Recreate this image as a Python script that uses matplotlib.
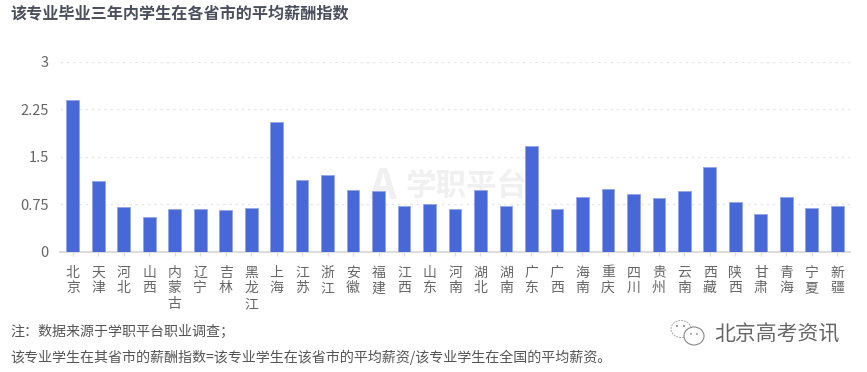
import matplotlib
matplotlib.use('Agg')
import matplotlib.pyplot as plt
from matplotlib.patches import Ellipse, Circle

plt.rcParams['font.family'] = ['Noto Sans CJK SC', 'DejaVu Sans']

provinces = ['北京', '天津', '河北', '山西', '内蒙古', '辽宁', '吉林', '黑龙江', '上海', '江苏', '浙江',
             '安徽', '福建', '江西', '山东', '河南', '湖北', '湖南', '广东', '广西', '海南', '重庆',
             '四川', '贵州', '云南', '西藏', '陕西', '甘肃', '青海', '宁夏', '新疆']
salary_index = [2.40, 1.115, 0.71, 0.547, 0.673, 0.673, 0.653, 0.684, 2.046, 1.126, 1.21,
                0.97, 0.957, 0.726, 0.747, 0.673, 0.973, 0.726, 1.667, 0.668, 0.863, 0.99,
                0.905, 0.847, 0.953, 1.336, 0.784, 0.595, 0.863, 0.694, 0.716]
y_ticks = [0, 0.75, 1.5, 2.25, 3]
y_labels = ['0', '0.75', '1.5', '2.25', '3']

W, H = 867, 372
fig = plt.figure(figsize=(W / 100, H / 100), dpi=100)
ax = fig.add_axes([60 / W, 1 - 251.7 / H, 790 / W, 190.2 / H], zorder=2)

# 水印放在柱子下面
fig.text(466 / W, 1 - 186 / H, '学职平台', fontsize=22, color='#f0f0f0', ha='center', va='center',
         fontweight='bold', zorder=0)
fig.text(383 / W, 1 - 187 / H, 'A', fontsize=30, color='#f0f0f0', ha='center', va='center',
         fontweight='bold', zorder=0)
ax.patch.set_alpha(0)

xs = range(len(provinces))
ax.bar(xs, salary_index, width=0.5, color='#4968d8', edgecolor='#93a5e6', linewidth=0.6, zorder=3)

ax.set_xlim(-0.5, len(provinces) - 0.5)
ax.set_ylim(0, 3)
ax.set_yticks(y_ticks)
ax.set_yticklabels(y_labels, fontsize=10.5, color='#666666')
ax.set_xticks(list(xs))
ax.set_xticklabels(['\n'.join(p) for p in provinces], fontsize=10, color='#666666', linespacing=1.15,
                   fontweight='light')
ax.tick_params(axis='y', length=0, pad=8)
ax.tick_params(axis='x', length=3, color='#dddddd', width=1, pad=7)
ax.grid(axis='y', color='#e6e6e6', linestyle=(0, (2, 3)), linewidth=0.9, zorder=0)
for s in ['top', 'right', 'left']:
    ax.spines[s].set_visible(False)
ax.spines['bottom'].set_color('#dddddd')
ax.spines['bottom'].set_linewidth(1.5)

fig.text(10 / W, 1 - 13 / H, '该专业毕业三年内学生在各省市的平均薪酬指数', fontsize=11.6, color='#4a4f5c',
         fontweight='bold', ha='left', va='center')
fig.text(10 / W, 1 - 332 / H, '注：数据来源于学职平台职业调查；', fontsize=10.1, color='#555555', ha='left', va='center')
fig.text(10 / W, 1 - 357 / H, '该专业学生在其省市的薪酬指数=该专业学生在该省市的平均薪资/该专业学生在全国的平均薪资。',
         fontsize=10.1, color='#555555', ha='left', va='center')

# 公众号图标和名字
fig.text(714 / W, 1 - 335 / H, '北京高考资讯', fontsize=15, color='#666666', ha='left', va='center',
         fontweight='light')
overlay = fig.add_axes([0, 0, 1, 1], zorder=3)
overlay.set_xlim(0, W)
overlay.set_ylim(H, 0)
overlay.axis('off')
overlay.add_patch(Ellipse((681, 329), 20, 17, fill=False, ec='#aaaaaa', lw=0.7, ls=(0, (2, 1))))
overlay.add_patch(Ellipse((694, 336), 20, 18, fc='white', ec='#888888', lw=0.8))
for cx, cy, r in [(677, 326, 1), (684, 326, 1), (691, 334, 0.9), (697, 334, 0.9)]:
    overlay.add_patch(Circle((cx, cy), r, fc='#888888', ec='none'))

fig.savefig('out.png', dpi=100)
